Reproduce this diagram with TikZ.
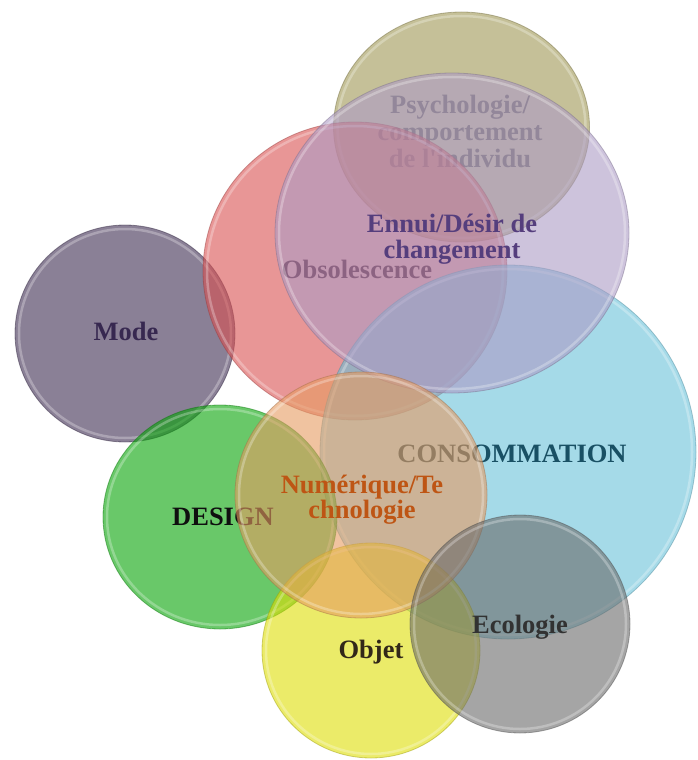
\documentclass[tikz,border=0pt]{standalone}
\usepackage{fontspec}
\setmainfont{Liberation Serif}
\definecolor{cOlive}{RGB}{158,150,83}
\definecolor{cLav}{RGB}{172,155,197}
\definecolor{cPink}{RGB}{217,80,80}
\definecolor{cMode}{RGB}{60,43,80}
\definecolor{cBlue}{RGB}{105,193,217}
\definecolor{cGreen}{RGB}{5,163,5}
\definecolor{cNum}{RGB}{230,155,97}
\definecolor{cYel}{RGB}{222,222,5}
\definecolor{cGray}{RGB}{105,105,105}
\definecolor{tPsy}{RGB}{110,105,90}
\definecolor{tEnnui}{RGB}{85,62,125}
\definecolor{tObs}{RGB}{92,17,30}
\definecolor{tMode}{RGB}{55,40,80}
\definecolor{tCons}{RGB}{25,80,100}
\definecolor{tDes}{RGB}{15,15,15}
\definecolor{tNum}{RGB}{190,85,20}
\definecolor{tObj}{RGB}{50,40,25}
\definecolor{tEco}{RGB}{50,50,50}
\newcommand\stacklines[1]{{\begin{tabular}[t]{@{}c@{}}#1\end{tabular}}}
\tikzset{
  blob/.style={fill=#1, fill opacity=0.6, draw=#1!70!black, draw opacity=0.45, line width=0.8pt},
  rim/.style={draw=white, draw opacity=0.28, line width=2.5pt},
  lbl/.style={inner sep=0pt, anchor=base, font=\fontsize{26.5}{#1}\selectfont\bfseries},
  lbl/.default=27
}
\begin{document}
\begin{tikzpicture}[x=1pt,y=-1pt]
\useasboundingbox (0,0) rectangle (697,760);
% Psychologie
\path[blob=cOlive] (461.5,127) ellipse [x radius=128pt,y radius=115pt];
\path[rim] (461.5,127) ellipse [x radius=124pt,y radius=111pt];
\node[lbl=27.5, text=tPsy] (psy) at (460,113) {\stacklines{Psychologie/\\comportement\\de l\textquotesingle individu}};
% Mode
\path[blob=cMode] (125,333.5) ellipse [x radius=110pt,y radius=108.5pt];
\path[rim] (125,333.5) ellipse [x radius=106pt,y radius=104.5pt];
\node[lbl, text=tMode] (mode) at (126,340) {Mode};
% Obsolescence
\path[blob=cPink] (355,271) ellipse [x radius=152pt,y radius=149pt];
\path[rim] (355,271) ellipse [x radius=148pt,y radius=145pt];
\node[lbl, text=tObs] (obs) at (357,278) {Obsolescence};
% Consommation
\path[blob=cBlue] (508,452) ellipse [x radius=188pt,y radius=187pt];
\path[rim] (508,452) ellipse [x radius=184pt,y radius=183pt];
\node[lbl, text=tCons] (cons) at (512,462) {CONSOMMATION};
% Ennui
\path[blob=cLav] (452,233) ellipse [x radius=177pt,y radius=160pt];
\path[rim] (452,233) ellipse [x radius=173pt,y radius=156pt];
\node[lbl=26, text=tEnnui] (ennui) at (452,232) {\stacklines{Ennui/Désir de\\changement}};
% Design
\path[blob=cGreen] (220,517) ellipse [x radius=117pt,y radius=112pt];
\path[rim] (220,517) ellipse [x radius=113pt,y radius=108pt];
\node[lbl, text=tDes] (design) at (223,525) {DESIGN};
% Objet
\path[blob=cYel] (371,650.5) ellipse [x radius=109pt,y radius=107.5pt];
\path[rim] (371,650.5) ellipse [x radius=105pt,y radius=103.5pt];
\node[lbl, text=tObj] (objet) at (371,658) {Objet};
% Numerique
\path[blob=cNum] (361,495) ellipse [x radius=126pt,y radius=123pt];
\path[rim] (361,495) ellipse [x radius=122pt,y radius=119pt];
\node[lbl=24.5, text=tNum] (num) at (362,493) {\stacklines{Numérique/Te\\chnologie}};
% Ecologie
\path[blob=cGray] (520,624) ellipse [x radius=110pt,y radius=109pt];
\path[rim] (520,624) ellipse [x radius=106pt,y radius=105pt];
\node[lbl, text=tEco] (eco) at (520,633) {Ecologie};
\end{tikzpicture}
\end{document}
